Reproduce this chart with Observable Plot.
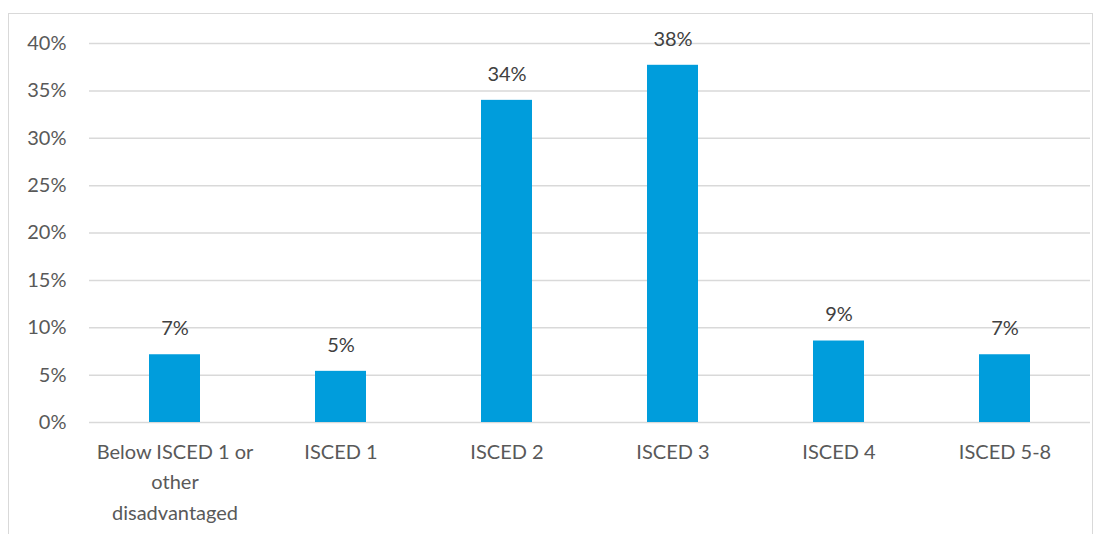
<!DOCTYPE html>
<html><head><meta charset="utf-8">
<script src="https://cdn.jsdelivr.net/npm/d3@7"></script>
<script src="https://cdn.jsdelivr.net/npm/@observablehq/plot@0.6"></script>
<style>
html,body{margin:0;padding:0;background:#fff;overflow:hidden;}
#wrap{position:relative;width:1105px;height:534px;}
#frame{position:absolute;left:8px;top:13px;width:1085px;height:560px;border:1.5px solid #d9d9d9;box-sizing:border-box;}
#chart{position:absolute;left:0;top:0;}
</style></head>
<body><div id="wrap"><div id="frame"></div><div id="chart"></div></div>
<script>
const categories = ["Below ISCED 1 or other disadvantaged","ISCED 1","ISCED 2","ISCED 3","ISCED 4","ISCED 5-8"];
const tickLabels = ["Below ISCED 1 or\nother\ndisadvantaged","ISCED 1","ISCED 2","ISCED 3","ISCED 4","ISCED 5-8"];
const values = [0.0715, 0.054, 0.340, 0.377, 0.086, 0.0715];
const yTicks = [0,0.05,0.10,0.15,0.20,0.25,0.30,0.35,0.40];

const data = categories.map((c,i)=>({cat:c, label:tickLabels[i], v:values[i]}));
const font = "Lato, 'Open Sans', sans-serif";

const plot = Plot.plot({
  width:1105, height:534,
  marginLeft:89, marginRight:15, marginTop:43, marginBottom:112,
  style:{fontFamily:font, background:"transparent", overflow:"visible"},
  x:{domain:categories, paddingInner:0.69, paddingOuter:0.345, axis:null},
  y:{domain:[0,0.4], axis:null},
  marks:[
    Plot.ruleY(yTicks,{stroke:"#d9d9d9", strokeWidth:1.5}),
    Plot.axisY(yTicks,{tickSize:0, tickPadding:23, label:null, tickFormat:d=>Math.round(d*100)+"%", fontSize:20, fill:"#595959"}),
    Plot.barY(data,{x:"cat", y:"v", fill:"#009ddc"}),
    Plot.text(data,{x:"cat", y:"v", text:d=>Math.round(d.v*100)+"%", dy:-26, fontSize:20, fill:"#404040"}),
    Plot.text(data,{x:"cat", y:()=>0, text:"label", lineAnchor:"top", dy:15, lineHeight:1.52, fontSize:20, fill:"#595959"})
  ]
});
document.getElementById("chart").appendChild(plot);
</script></body></html>
